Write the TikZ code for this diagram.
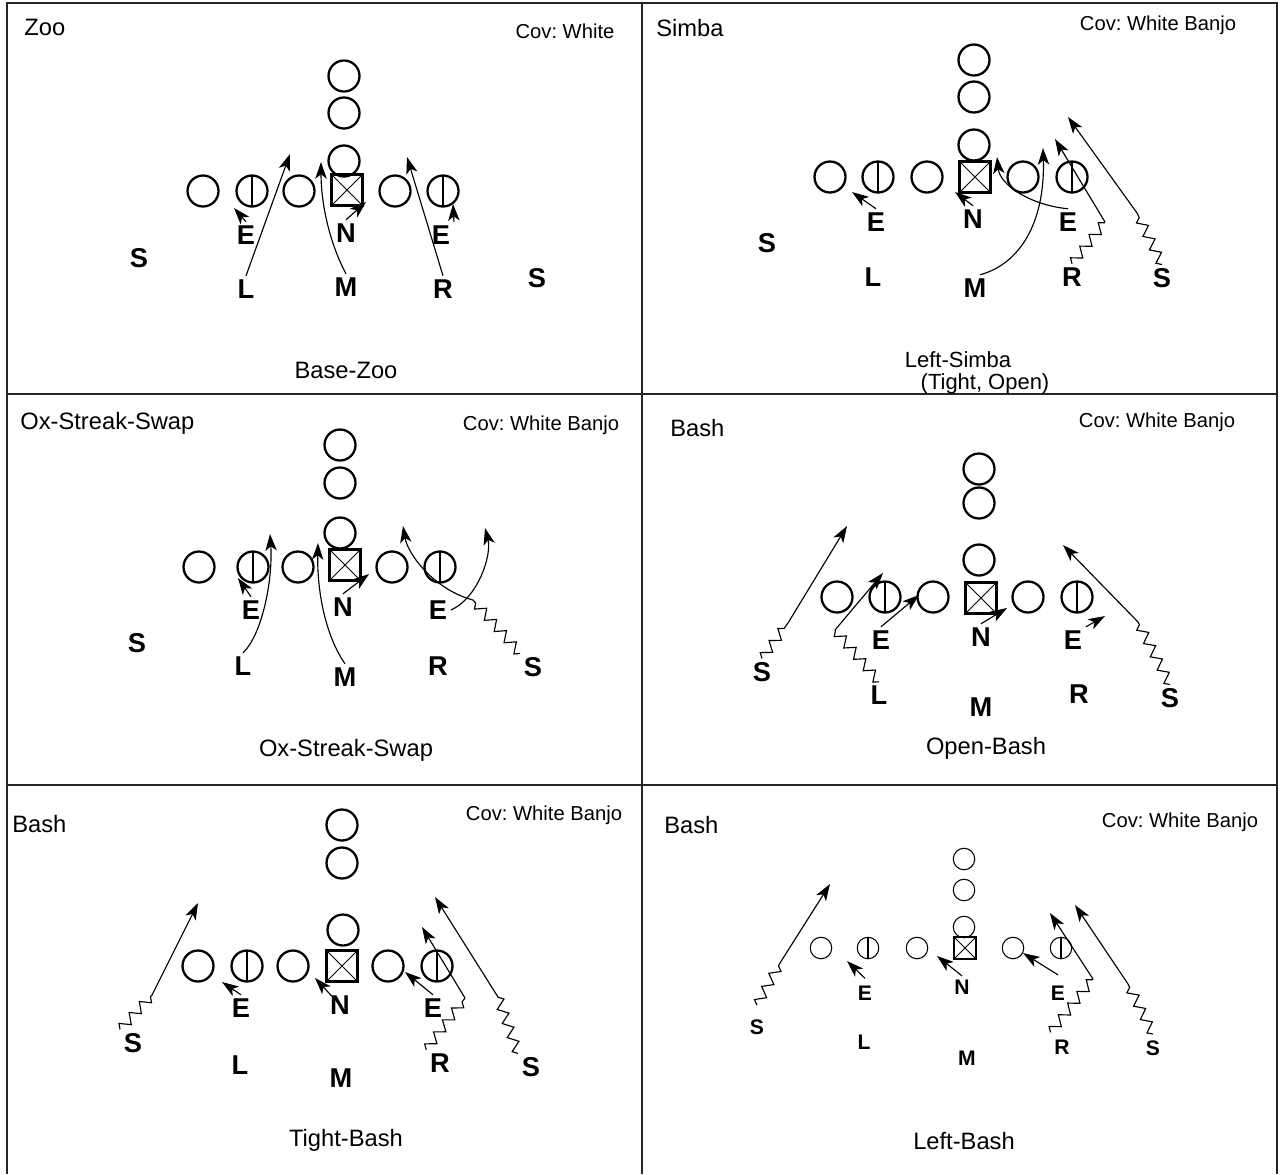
\documentclass[tikz,border=0pt]{standalone}
\usepackage{fontspec}
\setmainfont{Liberation Sans}
\frenchspacing
\usetikzlibrary{arrows.meta,decorations.pathmorphing}

\tikzset{
  ol/.style={circle, draw, line width=1.3pt, minimum size=0.62cm, inner sep=0pt},
  te/.style={ol, path picture={\draw[line width=#1] (path picture bounding box.north) -- (path picture bounding box.south);}},
  te/.default=1.3pt,
  ctr/.style={rectangle, draw, line width=1.3pt, minimum size=0.62cm, inner sep=0pt,
    path picture={\draw[line width=0.5pt] (path picture bounding box.north west) -- (path picture bounding box.south east)
      (path picture bounding box.north east) -- (path picture bounding box.south west);}},
  sm/.style={minimum size=0.43cm, line width=0.6pt},
  dl/.style={font=\bfseries\fontsize{15.5}{15.5}\selectfont, inner sep=2pt},
  dls/.style={font=\bfseries\fontsize{12}{12}\selectfont, inner sep=2pt},
  ttl/.style={font=\fontsize{13.5}{16}\selectfont, inner sep=0pt},
  cov/.style={font=\fontsize{11.5}{14}\selectfont, inner sep=0pt},
  rt/.style={-{Stealth[length=9.5pt, width=6.5pt, inset=2.5pt]}, line width=0.65pt},
  zz/.style={decorate, decoration={zigzag, segment length=8.5pt, amplitude=2.8pt}, line width=0.65pt},
  board/.style={line width=0.9pt, draw=black!85}
}

\begin{document}
\begin{tikzpicture}[x=0.02cm, y=-0.02cm]
   \useasboundingbox (0,0) rectangle (1280,1174);
   % grid of the six boxes
   \draw[board] (7,1174) -- (7,3) -- (1277,3) -- (1277,1174);
   \draw[board] (642,3) -- (642,1174);
   \draw[board] (7,394) -- (1277,394);
   \draw[board] (7,785) -- (1277,785);

   % ---- Zoo
   \node[ttl, anchor=west] (zT) at (24,27) {Zoo};
   \node[cov] (zC) at (565,31) {Cov: White};
   \node[ttl] (zB) at (346,370) {Base-Zoo};
   \node[ol]  (z1) at (203,191) {};
   \node[te]  (z2) at (252,191) {};
   \node[ol]  (z3) at (299,191) {};
   \node[ctr] (z4) at (347,190) {};
   \node[ol]  (z5) at (395,191) {};
   \node[te]  (z6) at (443,191) {};
   \node[ol]  (zb1) at (344,161) {};
   \node[ol]  (zb2) at (344,113) {};
   \node[ol]  (zb3) at (344,76) {};
   \node[dl] (zEl) at (246,235) {E};
   \node[dl] (zN)  at (346,233) {N};
   \node[dl] (zEr) at (441,235) {E};
   \node[dl] (zL)  at (246,289) {L};
   \node[dl] (zM)  at (346,287) {M};
   \node[dl] (zR)  at (443,289) {R};
   \node[dl] (zSl) at (139,258) {S};
   \node[dl] (zSr) at (537,278) {S};
   \draw[rt] (zL.north) -- (290,154);
   \draw[rt] (zEl.north) -- (234,208);
   \draw[rt] (zM.north) .. controls (328,240) and (321,200) .. (321,162);
   \draw[rt] (zN.north) -- (366,202);
   \draw[rt] (zR.north) -- (407,157);
   \draw[rt] (zEr.north east) -- (453,204);

   % ---- Simba
   \node[ttl, anchor=west] (sT) at (656,28) {Simba};
   \node[cov] (sC) at (1158,25) {Cov: White Banjo};
   \node[ttl, font=\fontsize{12.5}{14}\selectfont] (sB)  at (958,360) {Left-Simba};
   \node[ttl, font=\fontsize{12.5}{14}\selectfont] (sB2) at (985,384) {(Tight, Open)};
   \node[ol]  (s1) at (830,177) {};
   \node[te]  (s2) at (878,177) {};
   \node[ol]  (s3) at (927,177) {};
   \node[ctr] (s4) at (975,177) {};
   \node[ol]  (s5) at (1023,177) {};
   \node[te]  (s6) at (1072,177) {};
   \node[ol]  (sb1) at (974,145) {};
   \node[ol]  (sb2) at (974,97) {};
   \node[ol]  (sb3) at (974,60) {};
   \node[dl] (sEl) at (876,222) {E};
   \node[dl] (sN)  at (973,219) {N};
   \node[dl] (sEr) at (1068,222) {E};
   \node[dl] (sL)  at (873,277) {L};
   \node[dl] (sM)  at (975,288) {M};
   \node[dl] (sR)  at (1072,277) {R};
   \node[dl] (sSl) at (767,243) {S};
   \node[dl] (sSr) at (1162,278) {S};
   \coordinate (sRk) at (1105,222);
   \coordinate (sSk) at (1137,213);
   \draw[rt] (sEl.north) -- (852,192);
   \draw[rt] (sN.north) -- (955,192);
   \draw[rt] (sEr.north) .. controls (1030,205) and (1000,185) .. (997,157);
   \draw[rt] ([xshift=3pt]sM.north) .. controls (1025,262) and (1045,215) .. (1043,148);
   \draw[zz] (sR.north) -- (sRk);
   \draw[rt] (sRk) -- (1055,139);
   \draw[zz] (sSr.north) -- (sSk);
   \draw[rt] (sSk) -- (1068,117);

   % ---- Ox-Streak-Swap
   \node[ttl, anchor=west] (oT) at (20,423) {Ox-Streak-Swap};
   \node[cov] (oC) at (541,425) {Cov: White Banjo};
   \node[ttl] (oB) at (346,750) {Ox-Streak-Swap};
   \node[ol]  (o1) at (199,567) {};
   \node[te]  (o2) at (253,567) {};
   \node[ol]  (o3) at (298,567) {};
   \node[ctr] (o4) at (345,565) {};
   \node[ol]  (o5) at (392,567) {};
   \node[te]  (o6) at (440,567) {};
   \node[ol]  (ob1) at (340,533) {};
   \node[ol]  (ob2) at (340,483) {};
   \node[ol]  (ob3) at (340,445) {};
   \node[dl] (oEl) at (251,610) {E};
   \node[dl] (oN)  at (343,607) {N};
   \node[dl] (oEr) at (438,610) {E};
   \node[dl] (oL)  at (243,666) {L};
   \node[dl] (oM)  at (345,677) {M};
   \node[dl] (oR)  at (438,666) {R};
   \node[dl] (oSl) at (137,643) {S};
   \node[dl] (oSr) at (533,667) {S};
   \coordinate (oSk) at (473,600);
   \draw[rt] (oEl.north) -- (238,578);
   \draw[rt] (oL.north) .. controls (262,635) and (273,580) .. (270,534);
   \draw[rt] (oM.north) .. controls (325,635) and (317,590) .. (318,543);
   \draw[rt] (oN.north) -- (369,574);
   \draw[rt] (oEr.east) .. controls (478,598) and (492,555) .. (485,528);
   \draw[zz] (oSr.north west) -- (oSk);
   \draw[rt] (oSk) .. controls (435,590) and (408,555) .. (403,526);

   % ---- Open-Bash
   \node[ttl, anchor=west] (pT) at (670,428) {Bash};
   \node[cov] (pC) at (1157,422) {Cov: White Banjo};
   \node[ttl] (pB) at (986,748) {Open-Bash};
   \node[ol]  (p1) at (837,597) {};
   \node[te]  (p2) at (885,597) {};
   \node[ol]  (p3) at (933,597) {};
   \node[ctr] (p4) at (981,598) {};
   \node[ol]  (p5) at (1028,597) {};
   \node[te]  (p6) at (1077,597) {};
   \node[ol]  (pb1) at (979,560) {};
   \node[ol]  (pb2) at (979,503) {};
   \node[ol]  (pb3) at (979,469) {};
   \node[dl] (pEl) at (881,640) {E};
   \node[dl] (pN)  at (981,637) {N};
   \node[dl] (pEr) at (1073,640) {E};
   \node[dl] (pL)  at (879,695) {L};
   \node[dl] (pM)  at (981,707) {M};
   \node[dl] (pR)  at (1079,694) {R};
   \node[dl] (pSl) at (762,672) {S};
   \node[dl] (pSr) at (1170,698) {S};
   \coordinate (pSlk) at (788,623);
   \coordinate (pLk) at (835,630);
   \coordinate (pSrk) at (1138,622);
   \draw[zz] (pSl.north) -- (pSlk);
   \draw[rt] (pSlk) -- (847,526);
   \draw[zz] (pL.north) -- (pLk);
   \draw[rt] (pLk) -- (883,573);
   \draw[rt] (pEl.north) -- (919,595);
   \draw[rt] (pN.north) -- (1007,608);
   \draw[rt] (pEr.north east) -- (1105,616);
   \draw[zz] (pSr.north) -- (pSrk);
   \draw[rt] (pSrk) -- (1063,545);

   % ---- Tight-Bash
   \node[ttl, anchor=west] (tT) at (12,824) {Bash};
   \node[cov] (tC) at (544,815) {Cov: White Banjo};
   \node[ttl] (tB) at (346,1140) {Tight-Bash};
   \node[ol]  (t1) at (198,966) {};
   \node[te]  (t2) at (247,966) {};
   \node[ol]  (t3) at (293,966) {};
   \node[ctr] (t4) at (342,966) {};
   \node[ol]  (t5) at (388,966) {};
   \node[te]  (t6) at (437,966) {};
   \node[ol]  (tb1) at (343,930) {};
   \node[ol]  (tb2) at (342,863) {};
   \node[ol]  (tb3) at (342,825) {};
   \node[dl] (tEl) at (241,1008) {E};
   \node[dl] (tN)  at (340,1005) {N};
   \node[dl] (tEr) at (433,1008) {E};
   \node[dl] (tL)  at (240,1065) {L};
   \node[dl] (tM)  at (341,1078) {M};
   \node[dl] (tR)  at (440,1063) {R};
   \node[dl] (tSl) at (133,1043) {S};
   \node[dl] (tSr) at (531,1067) {S};
   \coordinate (tSlk) at (152,995);
   \coordinate (tRk) at (465,998);
   \coordinate (tSrk) at (498,997);
   \draw[zz] (tSl.north west) -- (tSlk);
   \draw[rt] (tSlk) -- (198,903);
   \draw[rt] (tEl.north) -- (222,982);
   \draw[rt] (tN.center) -- (315,978);
   \draw[rt] (tEr.north) -- (405,972);
   \draw[zz] (tR.north west) -- (tRk);
   \draw[rt] (tRk) -- (422,927);
   \draw[zz] (tSr.north west) -- (tSrk);
   \draw[rt] (tSrk) -- (435,897);

   % ---- Left-Bash
   \node[ttl, anchor=west] (lT) at (664,825) {Bash};
   \node[cov] (lC) at (1180,822) {Cov: White Banjo};
   \node[ttl] (lB) at (964,1141) {Left-Bash};
   \node[ol, sm]  (l1) at (821,948) {};
   \node[te=0.6pt, sm] (l2) at (868,948) {};
   \node[ol, sm]  (l3) at (917,948) {};
   \node[ctr, sm, minimum size=0.44cm] (l4) at (965,948) {};
   \node[ol, sm]  (l5) at (1013,948) {};
   \node[te=0.6pt, sm] (l6) at (1061,948) {};
   \node[ol, sm]  (lb1) at (964,927) {};
   \node[ol, sm]  (lb2) at (964,890) {};
   \node[ol, sm]  (lb3) at (964,859) {};
   \node[dls] (lEl) at (865,993) {E};
   \node[dls] (lN)  at (962,987) {N};
   \node[dls] (lEr) at (1058,993) {E};
   \node[dls] (lL)  at (864,1042) {L};
   \node[dls] (lM)  at (967,1058) {M};
   \node[dls] (lR)  at (1062,1047) {R};
   \node[dls] (lSl) at (757,1027) {S};
   \node[dls] (lSr) at (1153,1048) {S};
   \coordinate (lSlk) at (780,963);
   \coordinate (lRk) at (1093,979);
   \coordinate (lSrk) at (1128,984);
   \draw[zz] ([yshift=6pt]lSl.north) -- (lSlk);
   \draw[rt] (lSlk) -- (830,884);
   \draw[rt] ([yshift=2pt]lEl.north) -- (847,961);
   \draw[rt] (lN.north) -- (937,956);
   \draw[rt] ([yshift=4pt]lEr.north) -- (1023,953);
   \draw[zz] ([yshift=2pt]lR.north west) -- (lRk);
   \draw[rt] (lRk) -- (1050,913);
   \draw[zz] ([yshift=1.5pt]lSr.north) -- (lSrk);
   \draw[rt] (lSrk) -- (1075,905);
\end{tikzpicture}
\end{document}
